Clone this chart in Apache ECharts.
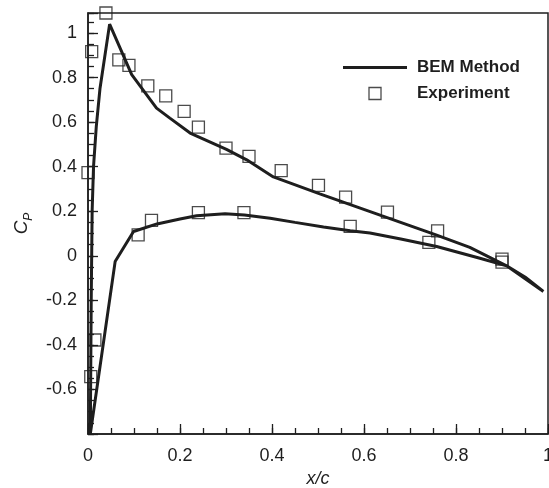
<!DOCTYPE html>
<html>
<head>
<meta charset="utf-8">
<script src="https://cdn.jsdelivr.net/npm/echarts@6/dist/echarts.min.js"></script>
<style>
html,body{margin:0;padding:0;background:#fff;}
#chart{width:549px;height:488px;}
</style>
</head>
<body>
<div id="chart"></div>
<script>
// BEM method: trailing edge -> lower surface -> leading edge -> upper surface -> trailing edge
var bemX = [0.99, 0.95, 0.91, 0.85, 0.758, 0.68, 0.613, 0.57, 0.512, 0.45, 0.396, 0.34, 0.298, 0.236, 0.2, 0.15, 0.099, 0.059, 0.005,
            0.007, 0.009, 0.012, 0.018, 0.026, 0.047, 0.095, 0.149, 0.178, 0.222, 0.301, 0.345, 0.403, 0.504, 0.638, 0.755, 0.83, 0.91, 0.99];
var bemY = [-0.16, -0.095, -0.045, -0.01, 0.042, 0.075, 0.102, 0.112, 0.129, 0.15, 0.169, 0.183, 0.189, 0.18, 0.165, 0.143, 0.109, -0.026, -0.8,
            -0.2, 0.2, 0.4, 0.58, 0.75, 1.04, 0.813, 0.663, 0.618, 0.551, 0.478, 0.431, 0.354, 0.278, 0.18, 0.095, 0.038, -0.045, -0.16];

var expX = [0.039, 0.008, 0.067, 0.089, 0.13, 0.169, 0.209, 0.24, 0.3, 0.35, 0.42, 0.501, 0.56, 0.651, 0.76, 0.9,
            0.0, 0.015, 0.006, 0.109, 0.138, 0.24, 0.339, 0.57, 0.741, 0.9];
var expY = [1.09, 0.917, 0.88, 0.855, 0.763, 0.718, 0.648, 0.578, 0.483, 0.446, 0.382, 0.316, 0.263, 0.196, 0.112, -0.015,
            0.373, -0.378, -0.542, 0.094, 0.159, 0.194, 0.194, 0.132, 0.06, -0.028];

var xTickLabels = ['0', '0.2', '0.4', '0.6', '0.8', '1'];
var yTickLabels = ['-0.6', '-0.4', '-0.2', '0', '0.2', '0.4', '0.6', '0.8', '1'];

function zip(a, b) { return a.map(function (v, i) { return [v, b[i]]; }); }

var ink = '#1e1e1e';
var font = 'Liberation Sans, Arial, Helvetica, sans-serif';

var chart = echarts.init(document.getElementById('chart'), null, {renderer: 'canvas'});
chart.setOption({
  animation: false,
  backgroundColor: '#fff',
  grid: {left: 88, right: 1, top: 13, bottom: 54, show: true, borderColor: ink, borderWidth: 1.5, containLabel: false, outerBoundsMode: 'none'},
  legend: {
    orient: 'vertical', left: 343, top: 59, padding: 0, itemWidth: 64, itemHeight: 12, itemGap: 9,
    symbolKeepAspect: true,
    data: [
      {name: 'BEM Method', icon: 'path://M0,0H64V3H0Z', itemStyle: {color: ink, borderWidth: 0}},
      {name: 'Experiment', icon: 'path://M0,0H10V10H0Z', itemStyle: {color: 'rgba(255,255,255,0)', borderColor: ink, borderWidth: 1.3}}
    ],
    textStyle: {fontFamily: font, fontSize: 17, fontWeight: 'bold', color: ink, padding: [0, 0, 0, 5]}
  },
  xAxis: [{
    type: 'value', min: 0, max: 1, interval: 0.2, position: 'bottom',
    name: 'x/c', nameLocation: 'middle', nameGap: 36,
    nameTextStyle: {fontFamily: font, fontSize: 18, fontStyle: 'italic', color: ink},
    axisLine: {show: true, onZero: false, lineStyle: {color: ink, width: 1.5}},
    axisTick: {show: true, inside: true, length: 10, lineStyle: {color: ink, width: 1.3}},
    axisLabel: {fontFamily: font, fontSize: 18, color: ink, margin: 13, showMaxLabel: true, showMinLabel: true,
      formatter: function (v) { var s = (Math.round(v * 10) / 10).toString(); return xTickLabels.indexOf(s) >= 0 ? s : ''; }},
    splitLine: {show: false}
  }, {
    type: 'value', min: 0, max: 1, interval: 0.05, position: 'bottom',
    axisLine: {show: false, onZero: false},
    axisTick: {show: true, inside: true, length: 6, lineStyle: {color: ink, width: 1.3}},
    axisLabel: {show: false}, splitLine: {show: false}
  }],
  yAxis: [{
    type: 'value', min: -0.8, max: 1.09, interval: 0.2, position: 'left',
    name: '{c|C}{p|P}', nameLocation: 'middle', nameGap: 52, nameRotate: 90,
    nameTextStyle: {
      fontFamily: font, color: ink,
      rich: {
        c: {fontFamily: font, fontSize: 19, fontStyle: 'italic', color: ink, verticalAlign: 'bottom'},
        p: {fontFamily: font, fontSize: 12, fontStyle: 'italic', color: ink, verticalAlign: 'bottom', padding: [0, 0, -4, 0]}
      }
    },
    axisLine: {show: true, onZero: false, lineStyle: {color: ink, width: 1.5}},
    axisTick: {show: true, inside: true, length: 10, lineStyle: {color: ink, width: 1.3}},
    axisLabel: {fontFamily: font, fontSize: 18, color: ink, margin: 11,
      formatter: function (v) { var s = (Math.round(v * 10) / 10).toString(); return yTickLabels.indexOf(s) >= 0 && v < 1.05 ? s : ''; }},
    splitLine: {show: false}
  }, {
    type: 'value', min: -0.8, max: 1.09, interval: 0.05, position: 'left',
    axisLine: {show: false, onZero: false},
    axisTick: {show: true, inside: true, length: 6, lineStyle: {color: ink, width: 1.3}},
    axisLabel: {show: false}, splitLine: {show: false}
  }],
  series: [{
    name: 'BEM Method', type: 'line', xAxisIndex: 0, yAxisIndex: 0,
    data: zip(bemX, bemY), showSymbol: false, symbol: 'none', smooth: false,
    lineStyle: {color: ink, width: 3}, itemStyle: {color: ink}, z: 3
  }, {
    name: 'Experiment', type: 'scatter', xAxisIndex: 0, yAxisIndex: 0,
    data: zip(expX, expY), symbol: 'rect', symbolSize: 12, clip: false,
    itemStyle: {color: 'rgba(255,255,255,0)', borderColor: ink, borderWidth: 1.3}, z: 2
  }]
});
</script>
</body>
</html>
